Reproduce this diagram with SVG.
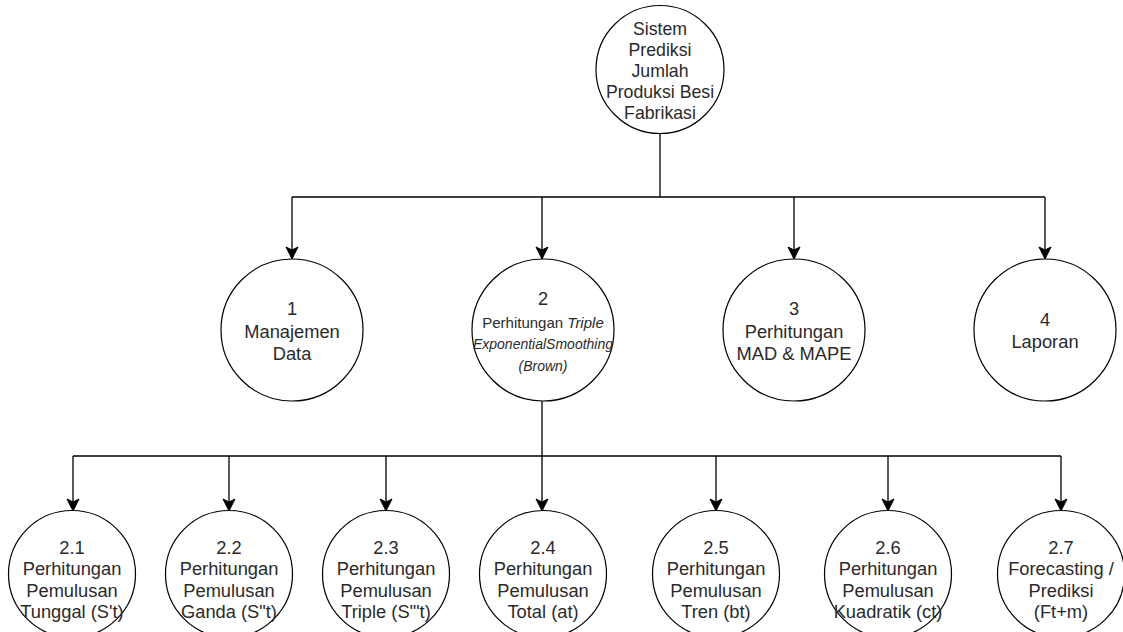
<svg xmlns="http://www.w3.org/2000/svg" width="1123" height="632" viewBox="0 0 1123 632">
  <style>
    .node circle { fill: #ffffff; stroke: #000000; stroke-width: 1.2; }
    .node text { font-family: "Liberation Sans", Arial, Helvetica, sans-serif; fill: #2a2a2a; text-anchor: middle; font-size: 18.3px; }
    .root text { font-size: 17.7px; }
    .it { font-style: italic; }
    .edge { fill: none; stroke: #000000; stroke-width: 1.3; }
  </style>
  <defs>
    <marker id="arrow" viewBox="0 0 14 14" refX="13" refY="7" markerWidth="14" markerHeight="14" markerUnits="userSpaceOnUse" orient="auto">
      <path d="M13,7 L1,1 L4,7 L1,13 Z" fill="#000000" stroke="#000000" stroke-width="1"/>
    </marker>
  </defs>

  <rect width="1123" height="632" fill="#ffffff"/>

  <!-- connectors -->
  <g id="connectors">
    <!-- root to level 1 -->
    <path class="edge" d="M660,133 V197"/>
    <path class="edge" d="M292,197 H1045"/>
    <path class="edge" d="M292,197 V259" marker-end="url(#arrow)"/>
    <path class="edge" d="M542,197 V259" marker-end="url(#arrow)"/>
    <path class="edge" d="M794,197 V259" marker-end="url(#arrow)"/>
    <path class="edge" d="M1045,197 V259" marker-end="url(#arrow)"/>
    <!-- process 2 to sub-processes -->
    <path class="edge" d="M542,400 V456"/>
    <path class="edge" d="M73,456 H1061"/>
    <path class="edge" d="M73,456 V511" marker-end="url(#arrow)"/>
    <path class="edge" d="M229,456 V511" marker-end="url(#arrow)"/>
    <path class="edge" d="M386,456 V511" marker-end="url(#arrow)"/>
    <path class="edge" d="M542,456 V511" marker-end="url(#arrow)"/>
    <path class="edge" d="M716,456 V511" marker-end="url(#arrow)"/>
    <path class="edge" d="M888,456 V511" marker-end="url(#arrow)"/>
    <path class="edge" d="M1061,456 V511" marker-end="url(#arrow)"/>
  </g>

  <!-- root -->
  <g id="node-root" class="node root">
    <circle cx="660" cy="69.5" r="64"/>
    <text x="660" y="35">Sistem</text>
    <text x="660" y="56">Prediksi</text>
    <text x="660" y="77">Jumlah</text>
    <text x="660" y="98">Produksi Besi</text>
    <text x="660" y="119">Fabrikasi</text>
  </g>

  <!-- level 1 -->
  <g id="node-1" class="node">
    <circle cx="292" cy="330" r="71"/>
    <text x="292" y="314.5">1</text>
    <text x="292" y="337.5">Manajemen</text>
    <text x="292" y="359.5">Data</text>
  </g>

  <g id="node-2" class="node">
    <circle cx="543" cy="330" r="71"/>
    <text x="543" y="305">2</text>
    <text x="543" y="327.5" style="font-size:15px">Perhitungan <tspan class="it">Triple</tspan></text>
    <text x="543" y="348.5" class="it" style="font-size:14px">ExponentialSmoothing</text>
    <text x="543" y="371" class="it" style="font-size:14px">(Brown)</text>
  </g>

  <g id="node-3" class="node">
    <circle cx="794" cy="330" r="71"/>
    <text x="794" y="314.5">3</text>
    <text x="794" y="337.5">Perhitungan</text>
    <text x="794" y="359.5">MAD &amp; MAPE</text>
  </g>

  <g id="node-4" class="node">
    <circle cx="1045" cy="330" r="71"/>
    <text x="1045" y="326">4</text>
    <text x="1045" y="348">Laporan</text>
  </g>

  <!-- level 2 -->
  <g id="node-2-1" class="node">
    <circle cx="72" cy="574" r="63.5"/>
    <text x="72" y="553.5">2.1</text>
    <text x="72" y="575">Perhitungan</text>
    <text x="72" y="596.5">Pemulusan</text>
    <text x="72" y="618">Tunggal (S't)</text>
  </g>

  <g id="node-2-2" class="node">
    <circle cx="229" cy="574" r="63.5"/>
    <text x="229" y="553.5">2.2</text>
    <text x="229" y="575">Perhitungan</text>
    <text x="229" y="596.5">Pemulusan</text>
    <text x="229" y="618">Ganda (S"t)</text>
  </g>

  <g id="node-2-3" class="node">
    <circle cx="386" cy="574" r="63.5"/>
    <text x="386" y="553.5">2.3</text>
    <text x="386" y="575">Perhitungan</text>
    <text x="386" y="596.5">Pemulusan</text>
    <text x="386" y="618">Triple (S'"t)</text>
  </g>

  <g id="node-2-4" class="node">
    <circle cx="543" cy="574" r="63.5"/>
    <text x="543" y="553.5">2.4</text>
    <text x="543" y="575">Perhitungan</text>
    <text x="543" y="596.5">Pemulusan</text>
    <text x="543" y="618">Total (at)</text>
  </g>

  <g id="node-2-5" class="node">
    <circle cx="716" cy="574" r="63.5"/>
    <text x="716" y="553.5">2.5</text>
    <text x="716" y="575">Perhitungan</text>
    <text x="716" y="596.5">Pemulusan</text>
    <text x="716" y="618">Tren (bt)</text>
  </g>

  <g id="node-2-6" class="node">
    <circle cx="888" cy="574" r="63.5"/>
    <text x="888" y="553.5">2.6</text>
    <text x="888" y="575">Perhitungan</text>
    <text x="888" y="596.5">Pemulusan</text>
    <text x="888" y="618">Kuadratik (ct)</text>
  </g>

  <g id="node-2-7" class="node">
    <circle cx="1061" cy="574" r="63.5"/>
    <text x="1061" y="553.5">2.7</text>
    <text x="1061" y="575">Forecasting /</text>
    <text x="1061" y="596.5">Prediksi</text>
    <text x="1061" y="618">(Ft+m)</text>
  </g>
</svg>
